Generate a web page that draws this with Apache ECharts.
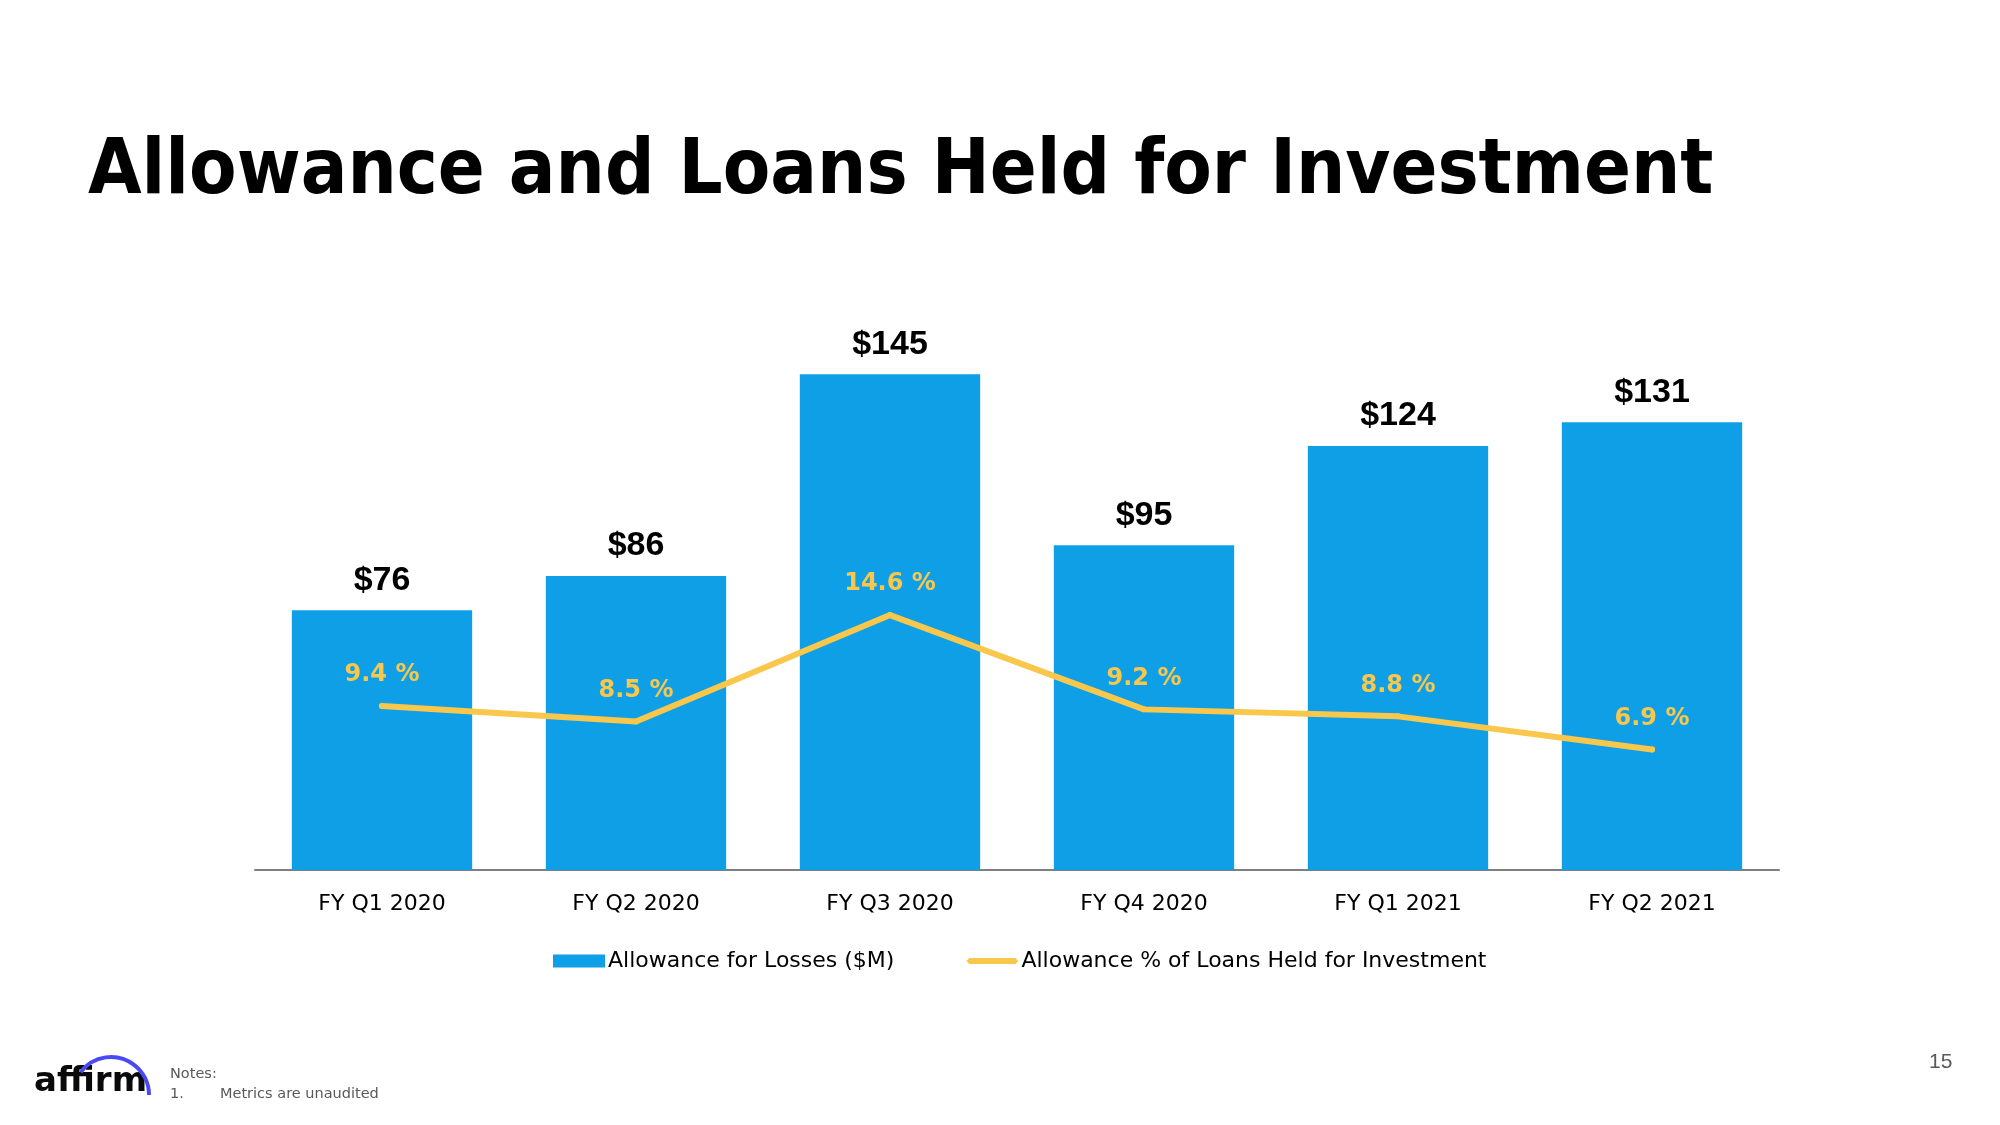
<!DOCTYPE html>
<html>
<head>
<meta charset="utf-8">
<script src="https://cdn.jsdelivr.net/npm/echarts@6/dist/echarts.min.js"></script>
<style>
html,body{margin:0;padding:0;background:#fff;}
#chart{width:2000px;height:1125px;}
</style>
</head>
<body>
<div id="chart"></div>
<script>
var categories = ['FY Q1 2020', 'FY Q2 2020', 'FY Q3 2020', 'FY Q4 2020', 'FY Q1 2021', 'FY Q2 2021'];
var allowanceLosses = [76, 86, 145, 95, 124, 131];
var allowancePct = [9.4, 8.5, 14.6, 9.2, 8.8, 6.9];
var seriesNames = ['Allowance for Losses ($M)', 'Allowance % of Loans Held for Investment'];
var titleText = 'Allowance and Loans Held for Investment';

var BLUE = '#0F9FE6';
var YELLOW = '#F9C74B';

var chart = echarts.init(document.getElementById('chart'), null, {renderer: 'canvas'});
var option = {
  backgroundColor: '#ffffff',
  animation: false,
  grid: {left: 255, right: 221, top: 323, bottom: 255, containLabel: false},
  legend: {
    left: 548,
    top: 945,
    itemWidth: 52,
    itemHeight: 13,
    itemGap: 72,
    symbolKeepAspect: true,
    textStyle: {fontFamily: 'DejaVu Sans', fontSize: 22, color: '#000', padding: [0, 0, 0, -2]},
    data: [
      {name: seriesNames[0], icon: 'rect'},
      {name: seriesNames[1], icon: 'path://M3,0L49,0L52,3L49,6L3,6L0,3Z', itemStyle: {color: YELLOW}}
    ]
  },
  xAxis: {
    type: 'category',
    data: categories,
    axisLine: {show: true, lineStyle: {color: '#7f7f7f', width: 2}},
    axisTick: {show: false},
    axisLabel: {fontFamily: 'DejaVu Sans', fontSize: 22, color: '#000', margin: 23}
  },
  yAxis: [
    {type: 'value', min: 0, max: 160, show: false, splitLine: {show: false}},
    {type: 'value', min: 0, max: 31.33, show: false, splitLine: {show: false}}
  ],
  series: [
    {
      name: seriesNames[0],
      type: 'bar',
      data: allowanceLosses,
      barCategoryGap: '29%',
      itemStyle: {color: BLUE},
      label: {
        show: true,
        position: 'top',
        distance: 13,
        fontFamily: 'Liberation Sans',
        fontWeight: 'bold',
        fontSize: 34,
        color: '#000',
        formatter: function (p) { return '$' + p.value; }
      }
    },
    {
      name: seriesNames[1],
      type: 'line',
      yAxisIndex: 1,
      data: allowancePct,
      symbol: 'circle',
      symbolSize: 6,
      showSymbol: true,
      lineStyle: {color: YELLOW, width: 6, cap: 'round', join: 'round'},
      itemStyle: {color: YELLOW},
      label: {
        show: true,
        position: 'top',
        distance: 16,
        fontFamily: 'DejaVu Sans',
        fontWeight: 'bold',
        fontSize: 24,
        color: YELLOW,
        formatter: function (p) { return p.value.toFixed(1) + ' %'; }
      },
      z: 5
    }
  ],
  graphic: [
    {
      type: 'text', left: 88, top: 134,
      style: {text: titleText, fontFamily: 'DejaVu Sans Condensed, DejaVu Sans', fontWeight: 'bold', fontSize: 77, fill: '#000'}
    },
    {
      type: 'text', left: 34, top: 1065,
      style: {text: 'affirm', fontFamily: 'DejaVu Sans', fontWeight: 'bold', fontSize: 34, fill: '#0a0a0a'}
    },
    {
      type: 'arc',
      shape: {cx: 111, cy: 1095, r: 38, startAngle: -2.5, endAngle: 0, clockwise: true},
      style: {stroke: '#4A4AF4', lineWidth: 4, fill: null}
    },
    {
      type: 'text', left: 170, top: 1067,
      style: {text: 'Notes:', fontFamily: 'DejaVu Sans', fontSize: 14.5, fill: '#595959'}
    },
    {
      type: 'text', left: 170, top: 1087,
      style: {text: '1.', fontFamily: 'DejaVu Sans', fontSize: 14.5, fill: '#595959'}
    },
    {
      type: 'text', left: 220, top: 1087,
      style: {text: 'Metrics are unaudited', fontFamily: 'DejaVu Sans', fontSize: 14.5, fill: '#595959'}
    },
    {
      type: 'text', left: 1929, top: 1052,
      style: {text: '15', fontFamily: 'Liberation Sans', fontSize: 21, fill: '#595959'}
    }
  ]
};
chart.setOption(option);
</script>
</body>
</html>
